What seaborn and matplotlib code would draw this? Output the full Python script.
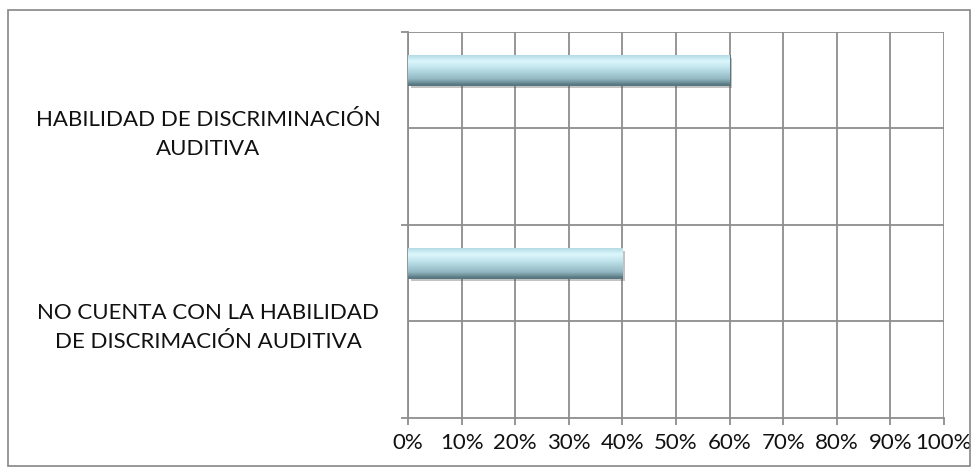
import numpy as np
import matplotlib
matplotlib.use("Agg")
import matplotlib.pyplot as plt
from matplotlib.patches import Rectangle
from matplotlib.colors import LinearSegmentedColormap
import matplotlib.patheffects as pe
import pandas as pd
import seaborn as sns

# data
categories = ["HABILIDAD DE DISCRIMINACIÓN\nAUDITIVA",
              "NO CUENTA CON LA HABILIDAD\nDE DISCRIMACIÓN AUDITIVA"]
shares = [0.60, 0.40]
x_ticks = [0, 0.1, 0.2, 0.3, 0.4, 0.5, 0.6, 0.7, 0.8, 0.9, 1.0]
x_labels = ["0%", "10%", "20%", "30%", "40%", "50%", "60%", "70%", "80%", "90%", "100%"]

df = pd.DataFrame({"cat": categories, "share": shares})

sns.set_theme(style="white")
plt.rcParams["font.family"] = ["Lato", "DejaVu Sans"]

grid_col = "#8e8e8e"

fig = plt.figure(figsize=(9.79, 4.76), dpi=100)
ax = fig.add_axes([0.4168, 0.1218, 0.5474, 0.811])

sns.barplot(data=df, y="cat", x="share", orient="h", width=0.155,
            color="#a9d1dc", ax=ax, zorder=3)

# Excel-like bevelled gradient on the bars (light top, dark bottom)
grad = LinearSegmentedColormap.from_list(
    "bevel", ["#b5dbe4", "#dcf7fc", "#c4e6ee", "#aad0da", "#93b8c3", "#56767f"])
for p in ax.patches:
    p.set_edgecolor("#4f6f79")
    p.set_linewidth(0.6)
    p.set_path_effects([pe.withSimplePatchShadow(offset=(2, -2), alpha=0.35,
                                                 shadow_rgbFace="#555555"),
                        pe.Normal()])
    x0, y0 = p.get_x(), p.get_y()
    w, h = p.get_width(), p.get_height()
    g = np.linspace(0, 1, 64).reshape(-1, 1)
    im = ax.imshow(g, cmap=grad, aspect="auto", extent=(x0, x0 + w, y0 + h, y0),
                   origin="upper", zorder=4)
    im.set_clip_path(p)

# category band: bar sits in the upper part of each band
ax.set_xlim(0, 1)
ax.set_ylim(1.803, -0.197)
ax.set_xticks(x_ticks)
ax.set_xticklabels(x_labels, fontsize=16, color="#111111")
ax.set_yticks([0.30, 1.30])
ax.set_yticklabels(categories, fontsize=16, color="#111111",
                   ha="center", multialignment="center", linespacing=1.55)
ax.tick_params(axis="y", which="major", length=0, pad=144)
ax.set_yticks([-0.197, 0.803, 1.803], minor=True)
ax.tick_params(axis="y", which="minor", length=5, width=1.3, color=grid_col, left=True)
ax.tick_params(axis="x", which="major", length=5, width=1.3, color=grid_col,
               bottom=True, pad=6)
ax.set_xlabel("")
ax.set_ylabel("")

ax.grid(True, axis="x", color=grid_col, linewidth=1.3, zorder=0)
for yv in [-0.197, 0.30, 0.803, 1.30]:
    ax.axhline(yv, color=grid_col, linewidth=1.3, zorder=0)

for s in ["top", "right"]:
    ax.spines[s].set_visible(False)
ax.spines["left"].set_color(grid_col)
ax.spines["bottom"].set_color(grid_col)
ax.spines["left"].set_linewidth(1.3)
ax.spines["bottom"].set_linewidth(1.3)

# chart area border
fig.patches.append(Rectangle((0.008, 0.021), 0.983, 0.958, transform=fig.transFigure,
                             fill=False, edgecolor="#868686", linewidth=1.2))

fig.savefig("out.png", dpi=100)
